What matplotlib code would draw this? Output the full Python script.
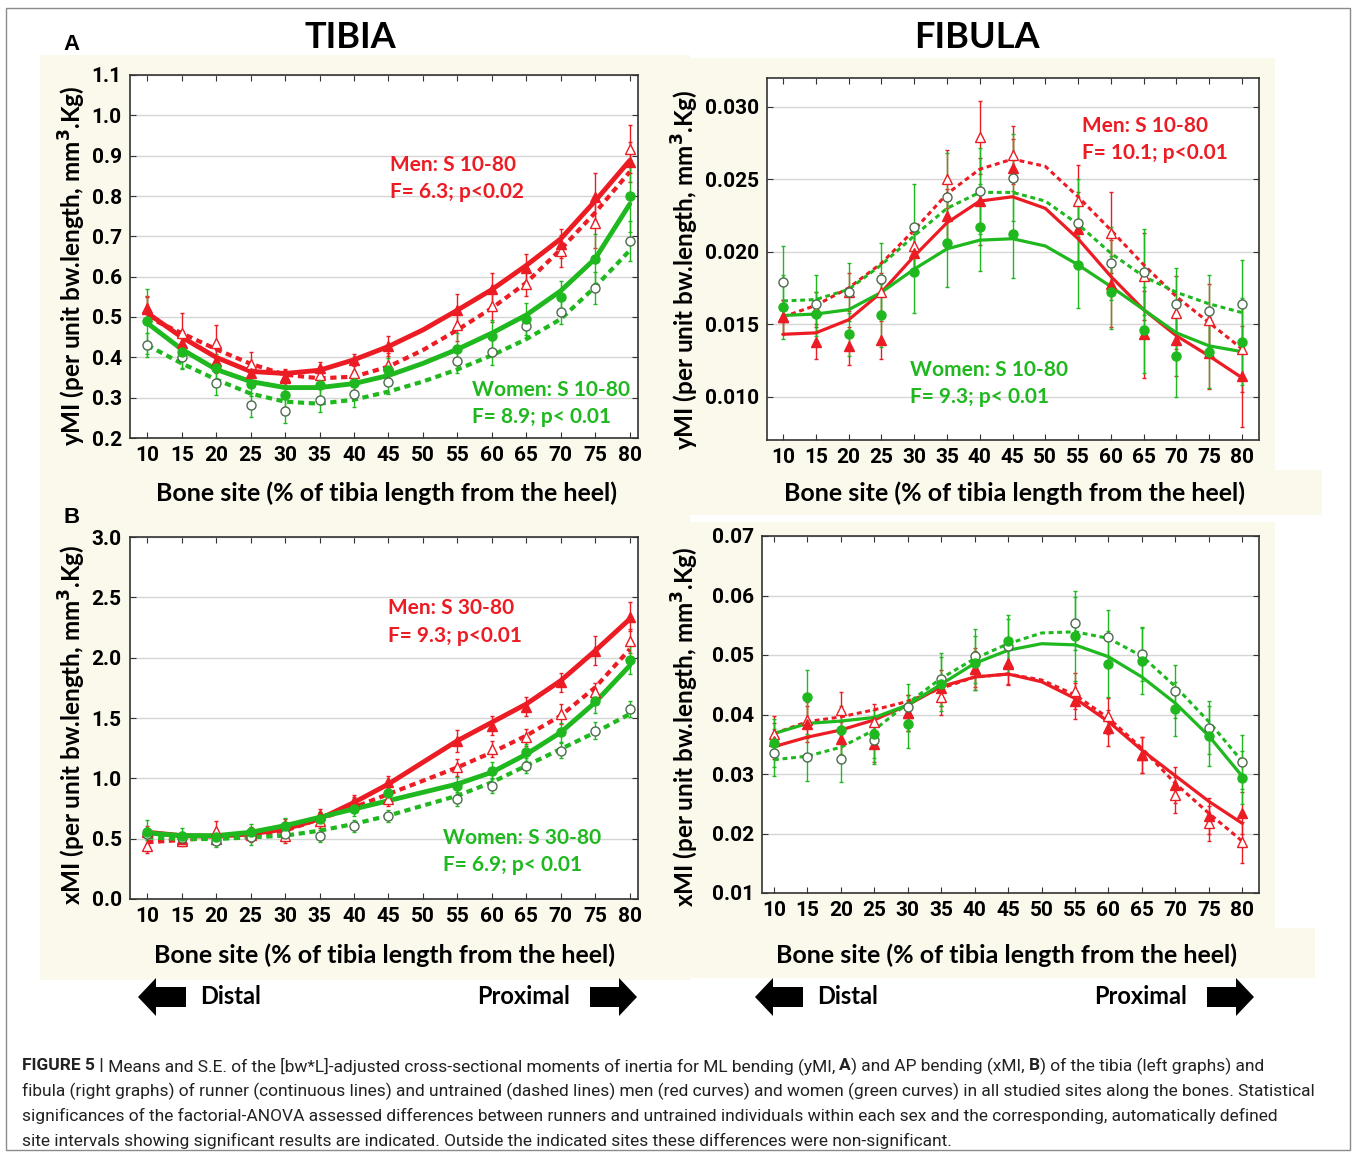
import numpy as np
import matplotlib
matplotlib.use("Agg")
import matplotlib.pyplot as plt
from matplotlib import font_manager
from matplotlib.patches import Rectangle, Polygon

W, H = 1357, 1157

names = {f.name for f in font_manager.fontManager.ttflist}
NARROW = "Roboto" if "Roboto" in names else "Liberation Sans"
SOFT = "Lato" if "Lato" in names else "DejaVu Sans"

RED = "#ec1c24"
GREEN = "#1fb81f"
OPEN_EDGE = "#4d6b4d"

# sites measured (no data at 50 %) and sites where fitted curves were read
sites = [10, 15, 20, 25, 30, 35, 40, 45, 55, 60, 65, 70, 75, 80]
fit_sites = [10, 15, 20, 25, 30, 35, 40, 45, 50, 55, 60, 65, 70, 75, 80]
x_ticks = [10, 15, 20, 25, 30, 35, 40, 45, 50, 55, 60, 65, 70, 75, 80]

# ---- A: tibia yMI
tib_y_men_run = [0.522, 0.435, 0.39, 0.36, 0.352, 0.373, 0.394, 0.429, 0.517, 0.57, 0.622, 0.682, 0.798, 0.885]
tib_y_men_unt = [0.52, 0.46, 0.435, 0.384, 0.348, 0.356, 0.36, 0.38, 0.48, 0.527, 0.583, 0.664, 0.732, 0.917]
tib_y_wom_run = [0.489, 0.414, 0.373, 0.334, 0.306, 0.331, 0.337, 0.369, 0.42, 0.452, 0.495, 0.55, 0.645, 0.80]
tib_y_wom_unt = [0.43, 0.40, 0.337, 0.282, 0.267, 0.294, 0.308, 0.34, 0.39, 0.412, 0.477, 0.512, 0.572, 0.688]
tib_y_men_run_se = [0.03, 0.03, 0.03, 0.02, 0.02, 0.015, 0.015, 0.025, 0.04, 0.04, 0.035, 0.035, 0.06, 0.05]
tib_y_men_unt_se = [0.03, 0.05, 0.045, 0.03, 0.02, 0.02, 0.02, 0.03, 0.04, 0.04, 0.03, 0.04, 0.06, 0.06]
tib_y_wom_run_se = [0.08, 0.04, 0.035, 0.03, 0.03, 0.03, 0.03, 0.03, 0.04, 0.04, 0.04, 0.04, 0.06, 0.09]
tib_y_wom_unt_se = [0.03, 0.03, 0.03, 0.03, 0.03, 0.03, 0.03, 0.03, 0.03, 0.03, 0.03, 0.03, 0.04, 0.05]
tib_y_men_run_fit = [0.51, 0.45, 0.40, 0.365, 0.36, 0.368, 0.394, 0.427, 0.468, 0.517, 0.568, 0.628, 0.694, 0.788, 0.888]
tib_y_men_unt_fit = [0.50, 0.46, 0.42, 0.384, 0.357, 0.348, 0.352, 0.377, 0.418, 0.468, 0.522, 0.585, 0.668, 0.759, 0.86]
tib_y_wom_run_fit = [0.485, 0.42, 0.37, 0.34, 0.325, 0.325, 0.335, 0.355, 0.385, 0.42, 0.46, 0.505, 0.565, 0.645, 0.78]
tib_y_wom_unt_fit = [0.43, 0.385, 0.345, 0.31, 0.29, 0.285, 0.295, 0.315, 0.34, 0.37, 0.405, 0.445, 0.495, 0.575, 0.665]

# ---- A: fibula yMI
fib_y_men_run = [0.0155, 0.0138, 0.0135, 0.0139, 0.0199, 0.0225, 0.0235, 0.0258, 0.0216, 0.0178, 0.0143, 0.0139, 0.0130, 0.0114]
fib_y_men_unt = [0.0155, 0.0160, 0.0172, 0.0172, 0.0204, 0.0250, 0.0279, 0.0267, 0.0235, 0.0213, 0.0183, 0.0158, 0.0153, 0.0133]
fib_y_wom_run = [0.0162, 0.0157, 0.0143, 0.0156, 0.0186, 0.0206, 0.0217, 0.0212, 0.0191, 0.0172, 0.0146, 0.0128, 0.0131, 0.0138]
fib_y_wom_unt = [0.0179, 0.0164, 0.0172, 0.0181, 0.0217, 0.0238, 0.0242, 0.0251, 0.0220, 0.0192, 0.0186, 0.0164, 0.0159, 0.0164]
fib_y_men_run_se = [0.0012, 0.0012, 0.0013, 0.0013, 0.0013, 0.0018, 0.0030, 0.0020, 0.0025, 0.0030, 0.0030, 0.0025, 0.0025, 0.0035]
fib_y_men_unt_se = [0.0012, 0.0012, 0.0013, 0.0013, 0.0015, 0.0020, 0.0025, 0.0020, 0.0025, 0.0028, 0.0030, 0.0025, 0.0025, 0.0030]
fib_y_wom_run_se = [0.0022, 0.0015, 0.0015, 0.0022, 0.0028, 0.0030, 0.0030, 0.0030, 0.0030, 0.0025, 0.0030, 0.0028, 0.0025, 0.0030]
fib_y_wom_unt_se = [0.0025, 0.0020, 0.0020, 0.0025, 0.0030, 0.0030, 0.0030, 0.0030, 0.0030, 0.0025, 0.0030, 0.0025, 0.0025, 0.0030]
fib_y_men_run_fit = [0.0143, 0.0144, 0.0153, 0.0172, 0.0197, 0.0220, 0.0235, 0.0238, 0.0230, 0.0209, 0.0183, 0.0160, 0.0142, 0.0128, 0.0113]
fib_y_men_unt_fit = [0.0155, 0.0163, 0.0175, 0.0192, 0.0215, 0.0240, 0.0257, 0.0264, 0.0259, 0.0238, 0.0215, 0.0191, 0.0169, 0.0151, 0.0133]
fib_y_wom_run_fit = [0.0156, 0.0157, 0.0160, 0.0172, 0.0188, 0.0202, 0.0208, 0.0209, 0.0204, 0.0191, 0.0176, 0.0160, 0.0144, 0.0135, 0.0131]
fib_y_wom_unt_fit = [0.0166, 0.0167, 0.0174, 0.0191, 0.0211, 0.0230, 0.0241, 0.0241, 0.0235, 0.0219, 0.0199, 0.0183, 0.0172, 0.0164, 0.0158]

# ---- B: tibia xMI
tib_x_men_run = [0.558, 0.497, 0.497, 0.553, 0.613, 0.70, 0.815, 0.967, 1.312, 1.436, 1.594, 1.796, 2.058, 2.34]
tib_x_men_unt = [0.442, 0.483, 0.566, 0.53, 0.525, 0.649, 0.787, 0.829, 1.091, 1.243, 1.34, 1.533, 1.713, 2.14]
tib_x_wom_run = [0.553, 0.525, 0.511, 0.558, 0.608, 0.663, 0.746, 0.879, 0.94, 1.064, 1.215, 1.381, 1.644, 1.983]
tib_x_wom_unt = [0.539, 0.503, 0.483, 0.511, 0.539, 0.52, 0.608, 0.691, 0.829, 0.94, 1.105, 1.229, 1.395, 1.575]
tib_x_men_run_se = [0.05, 0.04, 0.04, 0.04, 0.05, 0.05, 0.05, 0.05, 0.09, 0.08, 0.08, 0.08, 0.12, 0.12]
tib_x_men_unt_se = [0.06, 0.04, 0.08, 0.06, 0.06, 0.06, 0.06, 0.06, 0.07, 0.07, 0.07, 0.08, 0.08, 0.10]
tib_x_wom_run_se = [0.10, 0.06, 0.06, 0.06, 0.06, 0.06, 0.06, 0.07, 0.07, 0.07, 0.07, 0.08, 0.10, 0.12]
tib_x_wom_unt_se = [0.05, 0.05, 0.05, 0.06, 0.06, 0.05, 0.05, 0.05, 0.06, 0.06, 0.06, 0.06, 0.07, 0.07]
tib_x_men_run_fit = [0.553, 0.525, 0.52, 0.539, 0.58, 0.663, 0.80, 0.953, 1.133, 1.312, 1.464, 1.616, 1.81, 2.058, 2.32]
tib_x_men_unt_fit = [0.47, 0.489, 0.511, 0.525, 0.566, 0.663, 0.76, 0.87, 0.98, 1.091, 1.215, 1.354, 1.519, 1.754, 2.07]
tib_x_wom_run_fit = [0.547, 0.525, 0.525, 0.553, 0.608, 0.677, 0.746, 0.815, 0.884, 0.953, 1.05, 1.20, 1.381, 1.63, 1.934]
tib_x_wom_unt_fit = [0.511, 0.497, 0.497, 0.511, 0.525, 0.566, 0.622, 0.691, 0.774, 0.856, 0.967, 1.105, 1.243, 1.381, 1.533]

# ---- B: fibula xMI
fib_x_men_run = [0.0355, 0.0384, 0.0358, 0.0350, 0.0403, 0.0444, 0.0477, 0.0485, 0.0423, 0.0377, 0.0332, 0.0282, 0.0230, 0.0234]
fib_x_men_unt = [0.0367, 0.0391, 0.0408, 0.0388, 0.0402, 0.0430, 0.0477, 0.0486, 0.0440, 0.0397, 0.0332, 0.0265, 0.0217, 0.0185]
fib_x_wom_run = [0.0352, 0.0430, 0.0374, 0.0367, 0.0384, 0.0451, 0.0487, 0.0523, 0.0532, 0.0485, 0.0490, 0.0409, 0.0364, 0.0294]
fib_x_wom_unt = [0.0336, 0.0328, 0.0326, 0.0357, 0.0412, 0.0459, 0.0498, 0.0515, 0.0553, 0.0530, 0.0502, 0.0439, 0.0378, 0.0320]
fib_x_men_run_se = [0.003, 0.003, 0.003, 0.003, 0.003, 0.003, 0.0035, 0.0035, 0.003, 0.003, 0.003, 0.003, 0.003, 0.0035]
fib_x_men_unt_se = [0.003, 0.003, 0.003, 0.003, 0.003, 0.003, 0.003, 0.0035, 0.003, 0.003, 0.003, 0.003, 0.003, 0.0035]
fib_x_wom_run_se = [0.004, 0.0045, 0.004, 0.004, 0.004, 0.0045, 0.0045, 0.0045, 0.0075, 0.0055, 0.0055, 0.0045, 0.005, 0.0045]
fib_x_wom_unt_se = [0.004, 0.004, 0.004, 0.004, 0.004, 0.0045, 0.0045, 0.0045, 0.0045, 0.0045, 0.0045, 0.0045, 0.0045, 0.0045]
fib_x_men_run_fit = [0.0346, 0.0362, 0.0374, 0.0391, 0.0416, 0.0447, 0.0463, 0.0468, 0.0455, 0.0427, 0.0388, 0.0340, 0.0297, 0.0254, 0.0217]
fib_x_men_unt_fit = [0.0368, 0.0388, 0.0396, 0.0408, 0.0422, 0.0444, 0.0463, 0.0468, 0.0458, 0.0433, 0.0394, 0.0343, 0.0284, 0.0234, 0.0187]
fib_x_wom_run_fit = [0.0368, 0.0385, 0.0389, 0.0395, 0.0416, 0.0451, 0.0486, 0.0508, 0.0519, 0.0517, 0.0497, 0.0463, 0.0419, 0.0364, 0.0296]
fib_x_wom_unt_fit = [0.0324, 0.0330, 0.0345, 0.0374, 0.0419, 0.0461, 0.0494, 0.0519, 0.0537, 0.0539, 0.0528, 0.0498, 0.0447, 0.0388, 0.0321]

caption_lines = [
    [("FIGURE 5 |", "bold"),
     (" Means and S.E. of the [bw*L]-adjusted cross-sectional moments of inertia for ML bending (yMI, ", "normal"),
     ("A", "bold"), (") and AP bending (xMI, ", "normal"), ("B", "bold"),
     (") of the tibia (left graphs) and", "normal")],
    [("fibula (right graphs) of runner (continuous lines) and untrained (dashed lines) men (red curves) and "
      "women (green curves) in all studied sites along the bones. Statistical", "normal")],
    [("significances of the factorial-ANOVA assessed differences between runners and untrained individuals "
      "within each sex and the corresponding, automatically defined", "normal")],
    [("site intervals showing significant results are indicated. Outside the indicated sites these "
      "differences were non-significant.", "normal")],
]
# right end of each caption line in the print (pixels)
caption_ends = [1330, 1318, 1298, 972]

fig = plt.figure(figsize=(W / 100, H / 100), dpi=100)
fig.patch.set_facecolor("white")


def fx(px):
    return px / W


def fy(py):
    return 1 - py / H


def box(x0, y0, x1, y1):
    return [fx(x0), fy(y1), (x1 - x0) / W, (y1 - y0) / H]


BEIGE = "#fbf8ec"
for x0, y0, x1, y1 in [(40, 55, 690, 980), (672, 58, 1275, 470), (690, 470, 1322, 515),
                       (672, 522, 1275, 930), (690, 928, 1315, 978)]:
    fig.patches.append(Rectangle((fx(x0), fy(y1)), (x1 - x0) / W, (y1 - y0) / H,
                                 transform=fig.transFigure, facecolor=BEIGE, edgecolor="none", zorder=-2))
fig.patches.append(Rectangle((fx(6), fy(1150)), (1350 - 6) / W, (1150 - 8) / H,
                             transform=fig.transFigure, facecolor="none", edgecolor="#8a8a8a",
                             linewidth=1.0, zorder=-1))


def draw_panel(ax, data, xlim, ylim, yticks, fmt, lw_solid, lw_dash, dash_pat):
    ax.set_facecolor("white")
    ax.set_xlim(*xlim)
    ax.set_ylim(*ylim)
    ax.set_xticks(x_ticks)
    ax.set_yticks(yticks)
    ax.set_yticklabels([fmt.format(v) for v in yticks])
    ax.yaxis.grid(True, color="#d6d6d6", linewidth=1.0)
    ax.set_axisbelow(True)
    for s in ax.spines.values():
        s.set_color("#333333")
        s.set_linewidth(1.2)
    ax.tick_params(direction="in", length=4, width=0.8, top=True, right=True,
                   colors="#333333", labelcolor="black", labelsize=15, pad=6)
    for lab in ax.get_xticklabels() + ax.get_yticklabels():
        lab.set_fontfamily(NARROW)
        lab.set_fontweight("bold")
    # men first, women drawn on top
    groups = [
        ("men_unt", RED, "^", False, True),
        ("men_run", RED, "^", True, False),
        ("wom_unt", GREEN, "o", False, True),
        ("wom_run", GREEN, "o", True, False),
    ]
    for key, color, marker, filled, dashed in groups:
        vals, se, fit = data[key]
        ax.errorbar(sites, vals, yerr=se, fmt="none", ecolor=color, elinewidth=1.0,
                    capsize=1.5, capthick=1.0, zorder=3)
        if dashed:
            ax.plot(fit_sites, fit, color=color, linewidth=lw_dash,
                    linestyle=(0, dash_pat), zorder=4)
        else:
            ax.plot(fit_sites, fit, color=color, linewidth=lw_solid,
                    solid_capstyle="round", solid_joinstyle="round", zorder=4)
        if filled:
            ax.plot(sites, vals, linestyle="none", marker=marker, markersize=6.5,
                    markerfacecolor=color, markeredgecolor=color, zorder=5)
        else:
            ax.plot(sites, vals, linestyle="none", marker=marker, markersize=6.5,
                    markerfacecolor="white",
                    markeredgecolor=color if marker == "^" else OPEN_EDGE,
                    markeredgewidth=1.0, zorder=5)


ax_a1 = fig.add_axes(box(130, 75, 638, 438))
draw_panel(ax_a1, {
    "men_run": (tib_y_men_run, tib_y_men_run_se, tib_y_men_run_fit),
    "men_unt": (tib_y_men_unt, tib_y_men_unt_se, tib_y_men_unt_fit),
    "wom_run": (tib_y_wom_run, tib_y_wom_run_se, tib_y_wom_run_fit),
    "wom_unt": (tib_y_wom_unt, tib_y_wom_unt_se, tib_y_wom_unt_fit),
}, (7.5, 81.2), (0.2, 1.1), [0.2, 0.3, 0.4, 0.5, 0.6, 0.7, 0.8, 0.9, 1.0, 1.1], "{:.1f}",
    3.5, 3.0, (1.5, 1.1))

ax_a2 = fig.add_axes(box(767, 78, 1259, 440))
draw_panel(ax_a2, {
    "men_run": (fib_y_men_run, fib_y_men_run_se, fib_y_men_run_fit),
    "men_unt": (fib_y_men_unt, fib_y_men_unt_se, fib_y_men_unt_fit),
    "wom_run": (fib_y_wom_run, fib_y_wom_run_se, fib_y_wom_run_fit),
    "wom_unt": (fib_y_wom_unt, fib_y_wom_unt_se, fib_y_wom_unt_fit),
}, (7.55, 82.6), (0.007, 0.032), [0.010, 0.015, 0.020, 0.025, 0.030], "{:.3f}",
    2.3, 2.2, (1.6, 1.2))

ax_b1 = fig.add_axes(box(130, 537, 638, 899))
draw_panel(ax_b1, {
    "men_run": (tib_x_men_run, tib_x_men_run_se, tib_x_men_run_fit),
    "men_unt": (tib_x_men_unt, tib_x_men_unt_se, tib_x_men_unt_fit),
    "wom_run": (tib_x_wom_run, tib_x_wom_run_se, tib_x_wom_run_fit),
    "wom_unt": (tib_x_wom_unt, tib_x_wom_unt_se, tib_x_wom_unt_fit),
}, (7.5, 81.2), (0.0, 3.0), [0.0, 0.5, 1.0, 1.5, 2.0, 2.5, 3.0], "{:.1f}",
    3.5, 3.0, (1.5, 1.1))

ax_b2 = fig.add_axes(box(762, 536, 1259, 893))
draw_panel(ax_b2, {
    "men_run": (fib_x_men_run, fib_x_men_run_se, fib_x_men_run_fit),
    "men_unt": (fib_x_men_unt, fib_x_men_unt_se, fib_x_men_unt_fit),
    "wom_run": (fib_x_wom_run, fib_x_wom_run_se, fib_x_wom_run_fit),
    "wom_unt": (fib_x_wom_unt, fib_x_wom_unt_se, fib_x_wom_unt_fit),
}, (8.2, 82.5), (0.01, 0.07), [0.01, 0.02, 0.03, 0.04, 0.05, 0.06, 0.07], "{:.2f}",
    2.3, 2.2, (1.6, 1.2))

# titles and panel letters
fig.text(fx(350), fy(38), "TIBIA", family=SOFT, fontweight="bold", fontsize=26, ha="center", va="center")
fig.text(fx(977), fy(38), "FIBULA", family=SOFT, fontweight="bold", fontsize=26, ha="center", va="center")
fig.text(fx(72), fy(45), "A", family="Liberation Sans", fontweight="bold", fontsize=16, ha="center", va="center")
fig.text(fx(72), fy(517), "B", family="Liberation Sans", fontweight="bold", fontsize=16, ha="center", va="center")

# axis labels
xlab = "Bone site (% of tibia length from the heel)"
for cx, cy in [(387, 493), (1015, 493), (384, 955), (1007, 955)]:
    fig.text(fx(cx), fy(cy), xlab, family=SOFT, fontweight="bold", fontsize=18, ha="center", va="center")
ylab_a = "yMI (per unit bw.length, mm$^{\\mathbf{3}}$.Kg)"
ylab_b = "xMI (per unit bw.length, mm$^{\\mathbf{3}}$.Kg)"
for cx, cy, s in [(72, 266, ylab_a), (685, 270, ylab_a), (72, 725, ylab_b), (685, 727, ylab_b)]:
    fig.text(fx(cx), fy(cy), s, family=SOFT, fontweight="bold", fontsize=17.5, rotation=90,
             ha="center", va="center")

# statistics annotations
notes = [
    (390, 165, "Men: S 10-80", RED), (390, 192, "F= 6.3; p<0.02", RED),
    (472, 390, "Women: S 10-80", GREEN), (472, 417, "F= 8.9; p< 0.01", GREEN),
    (1082, 126, "Men: S 10-80", RED), (1082, 153, "F= 10.1; p<0.01", RED),
    (910, 370, "Women: S 10-80", GREEN), (910, 397, "F= 9.3; p< 0.01", GREEN),
    (388, 608, "Men: S 30-80", RED), (388, 636, "F= 9.3; p<0.01", RED),
    (443, 838, "Women: S 30-80", GREEN), (443, 865, "F= 6.9; p< 0.01", GREEN),
]
for x, y, s, c in notes:
    fig.text(fx(x), fy(y), s, family=SOFT, fontweight="bold", fontsize=15, color=c,
             ha="left", va="center")


# direction arrows
def arrow(x_tip, x_base, x_tail, yc):
    pts = [(x_tip, yc), (x_base, yc - 19), (x_base, yc - 10), (x_tail, yc - 10),
           (x_tail, yc + 10), (x_base, yc + 10), (x_base, yc + 19)]
    fig.patches.append(Polygon([(fx(px), fy(py)) for px, py in pts], closed=True,
                               transform=fig.transFigure, facecolor="black", edgecolor="none"))


for left0 in (0, 617):
    arrow(138 + left0, 156 + left0, 186 + left0, 997)
    arrow(637 + left0, 619 + left0, 590 + left0, 997)
    fig.text(fx(200 + left0), fy(997), "Distal", family=SOFT, fontweight="bold", fontsize=17,
             ha="left", va="center")
    fig.text(fx(570 + left0), fy(997), "Proximal", family=SOFT, fontweight="bold", fontsize=17,
             ha="right", va="center")

# caption: one font size, chosen so that no line runs past its end in the print
renderer = fig.canvas.get_renderer()
base = 12.0
ratios = []
for runs, end in zip(caption_lines, caption_ends):
    width = 0
    for s, weight in runs:
        t = fig.text(0, 0, s, family=NARROW, fontweight=weight, fontsize=base)
        width += t.get_window_extent(renderer).width
        t.remove()
    ratios.append((end - 22) / width)
cap_size = base * min(ratios)

for i, runs in enumerate(caption_lines):
    x = 22
    y = 1066 + 25 * i
    for s, weight in runs:
        t = fig.text(fx(x), fy(y), s, family=NARROW, fontweight=weight, fontsize=cap_size,
                     ha="left", va="center", color="#222222")
        x += t.get_window_extent(renderer).width

fig.savefig("out.png", dpi=100, facecolor="white")
